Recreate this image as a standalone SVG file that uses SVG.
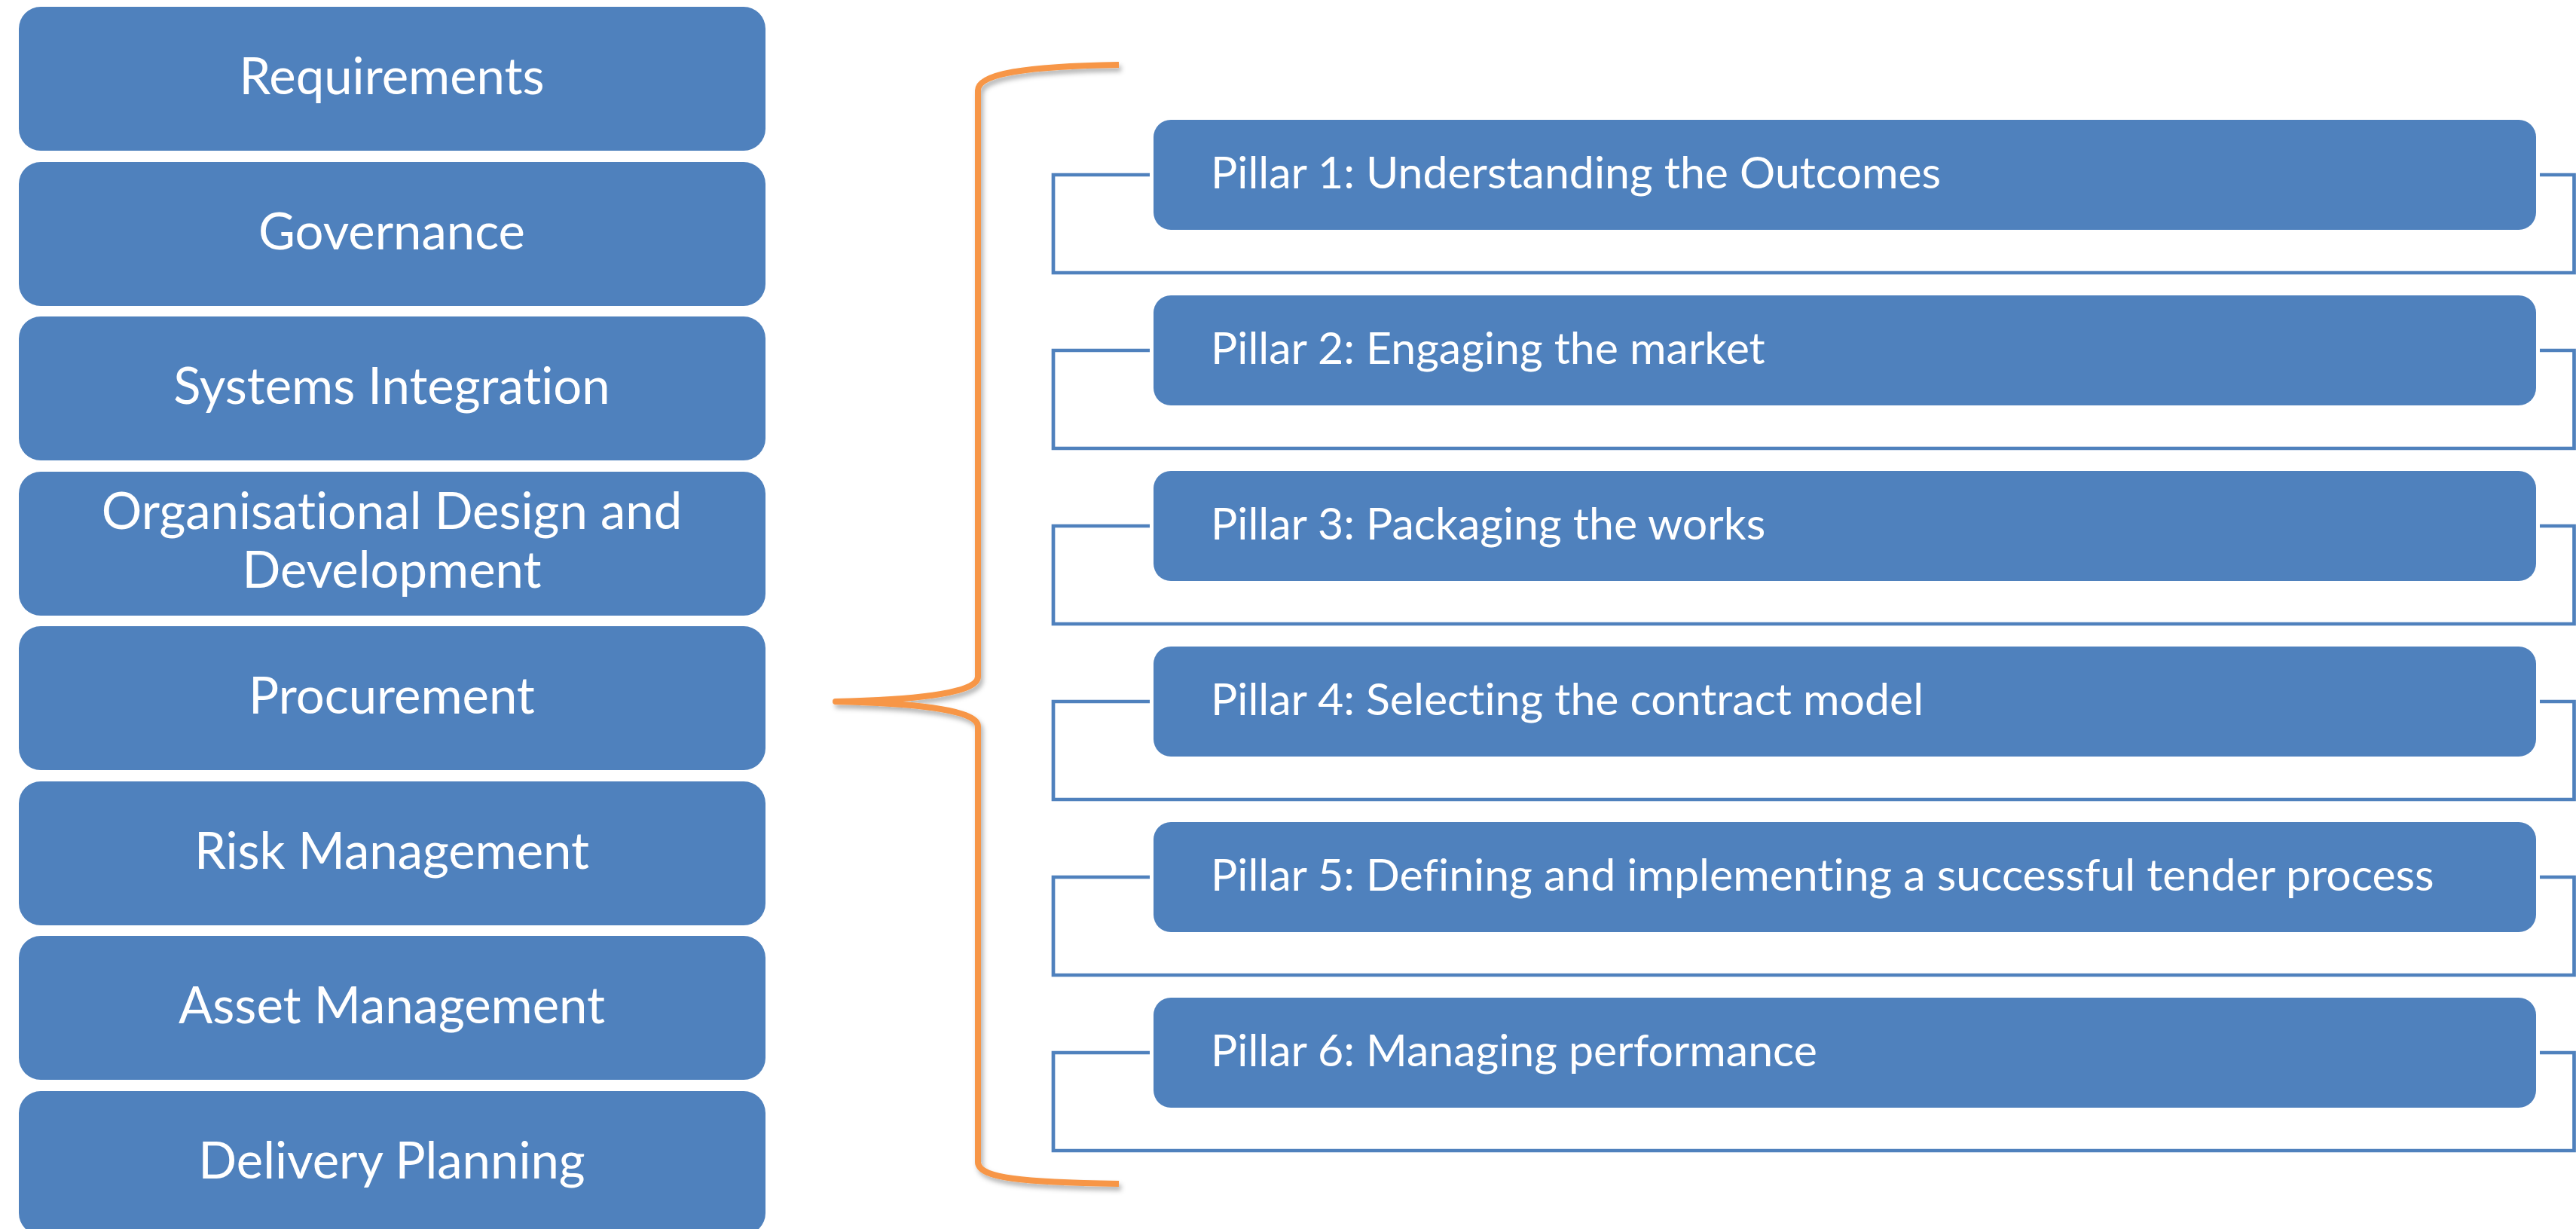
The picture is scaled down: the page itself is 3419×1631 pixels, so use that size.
<svg xmlns="http://www.w3.org/2000/svg" width="3419" height="1631" viewBox="0 0 3419 1631">
<defs>
<style>
.box{fill:#4F81BD;}
.lt{fill:#fff;font-family:Lato,"Liberation Sans",sans-serif;font-size:67px;text-anchor:middle;font-variant-ligatures:none;}
.pt{fill:#fff;font-family:Lato,"Liberation Sans",sans-serif;font-size:59px;font-variant-ligatures:none;}
.conn{fill:none;stroke:#4F81BD;stroke-width:4.7;stroke-linejoin:miter;}
.brace{fill:none;stroke:#F79646;stroke-width:8;stroke-linecap:butt;stroke-linejoin:round;}
</style>
<filter id="sh" x="-10%" y="-10%" width="120%" height="120%">
<feDropShadow dx="3" dy="5" stdDeviation="3" flood-color="#000" flood-opacity="0.3"/>
</filter>
</defs>
<rect width="3419" height="1631" fill="#fff"/>

<g id="left-requirements"><rect class="box" x="25" y="9" width="991" height="191" rx="29"/><text class="lt" x="520" y="125">Requirements</text></g>
<g id="left-governance"><rect class="box" x="25" y="215" width="991" height="191" rx="29"/><text class="lt" x="520" y="331">Governance</text></g>
<g id="left-systems"><rect class="box" x="25" y="420" width="991" height="191" rx="29"/><text class="lt" x="520" y="536">Systems Integration</text></g>
<g id="left-organisational"><rect class="box" x="25" y="626" width="991" height="191" rx="29"/><text class="lt" x="520" y="702">Organisational Design and</text><text class="lt" x="520" y="780">Development</text></g>
<g id="left-procurement"><rect class="box" x="25" y="831" width="991" height="191" rx="29"/><text class="lt" x="520" y="947">Procurement</text></g>
<g id="left-risk"><rect class="box" x="25" y="1037" width="991" height="191" rx="29"/><text class="lt" x="520" y="1153">Risk Management</text></g>
<g id="left-asset"><rect class="box" x="25" y="1242" width="991" height="191" rx="29"/><text class="lt" x="520" y="1358">Asset Management</text></g>
<g id="left-delivery"><rect class="box" x="25" y="1448" width="991" height="191" rx="29"/><text class="lt" x="520" y="1564">Delivery Planning</text></g>

<g id="brace" filter="url(#sh)">
<path class="brace" d="M1485 86 C1360 88 1298 98 1298 120 L1298 898 C1298 922 1200 929 1109 931 C1200 933 1298 940 1298 964 L1298 1542 C1298 1564 1360 1569 1485 1571"/>
</g>

<g id="connectors">
<path class="conn" d="M1526 232 H1398 V362 H3416.5 V232 H3371"/>
<path class="conn" d="M1526 465 H1398 V595 H3416.5 V465 H3371"/>
<path class="conn" d="M1526 698 H1398 V828 H3416.5 V698 H3371"/>
<path class="conn" d="M1526 931 H1398 V1061 H3416.5 V931 H3371"/>
<path class="conn" d="M1526 1164 H1398 V1294 H3416.5 V1164 H3371"/>
<path class="conn" d="M1526 1397 H1398 V1527 H3416.5 V1397 H3371"/>
</g>

<g id="pillar1"><rect class="box" x="1531" y="159" width="1835" height="146" rx="23"/><text class="pt" x="1607" y="250">Pillar 1: Understanding the Outcomes</text></g>
<g id="pillar2"><rect class="box" x="1531" y="392" width="1835" height="146" rx="23"/><text class="pt" x="1607" y="483">Pillar 2: Engaging the market</text></g>
<g id="pillar3"><rect class="box" x="1531" y="625" width="1835" height="146" rx="23"/><text class="pt" x="1607" y="716">Pillar 3: Packaging the works</text></g>
<g id="pillar4"><rect class="box" x="1531" y="858" width="1835" height="146" rx="23"/><text class="pt" x="1607" y="949">Pillar 4: Selecting the contract model</text></g>
<g id="pillar5"><rect class="box" x="1531" y="1091" width="1835" height="146" rx="23"/><text class="pt" x="1607" y="1182">Pillar 5: Defining and implementing a successful tender process</text></g>
<g id="pillar6"><rect class="box" x="1531" y="1324" width="1835" height="146" rx="23"/><text class="pt" x="1607" y="1415">Pillar 6: Managing performance</text></g>
</svg>
